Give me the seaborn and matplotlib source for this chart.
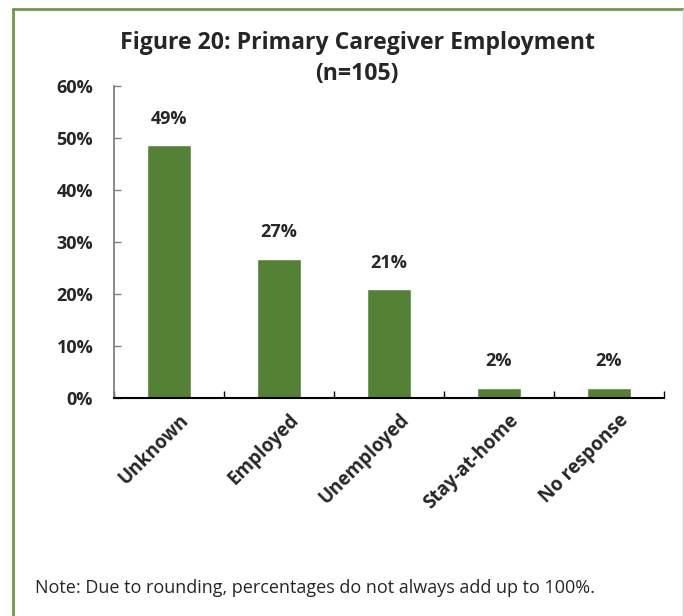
import pandas as pd
import numpy as np
import matplotlib
matplotlib.use('Agg')
import matplotlib.pyplot as plt
import seaborn as sns
from matplotlib.ticker import FixedLocator

# Data
categories = ['Unknown', 'Employed', 'Unemployed', 'Stay-at-home', 'No response']
shares = [48.6, 26.7, 20.9, 1.9, 1.9]
labels = ['49%', '27%', '21%', '2%', '2%']

df = pd.DataFrame({'category': categories, 'share': shares})

sns.set_style('white')
plt.rcParams['font.family'] = ['Open Sans', 'DejaVu Sans']

bar_green = '#548235'
border_green = '#6b9b45'

fig = plt.figure(figsize=(6.84, 6.16), dpi=100)
ax = fig.add_axes([0.1667, 0.3547, 0.8041, 0.5057])

sns.barplot(data=df, x='category', y='share', color=bar_green,
            width=0.4, saturation=1, ax=ax)

# value labels above the bars
for i, (v, lab) in enumerate(zip(shares, labels)):
    ax.annotate(lab, (i, v), xytext=(0, 19), textcoords='offset points',
                ha='center', va='center', fontsize=13, fontweight='bold')

# rotated category labels, placed a bit right of the bar centre like Excel does
for i, cat in enumerate(categories):
    ax.annotate(cat, (i, 0), xytext=(7, -9), textcoords='offset points',
                rotation=45, rotation_mode='anchor', ha='right', va='top',
                fontsize=13.5, fontweight='bold', annotation_clip=False)

ax.set_ylim(0, 60)
ax.set_xlim(-0.5, 4.5)
ax.set_yticks(np.arange(0, 61, 10))
ax.set_yticklabels([f'{t}%' for t in range(0, 61, 10)],
                   fontsize=13, fontweight='bold')
ax.set_xticks(range(len(categories)))
ax.set_xticklabels([''] * len(categories))
ax.xaxis.set_minor_locator(FixedLocator(np.arange(-0.5, 4.6, 1)))
ax.tick_params(axis='x', which='major', length=0)
ax.tick_params(axis='x', which='minor', direction='in', length=5,
               width=1, color='black', bottom=True)
ax.tick_params(axis='y', direction='in', length=5, width=1,
               color='#808080', left=True, pad=15)
ax.set_xlabel('')
ax.set_ylabel('')

for s in ['top', 'right']:
    ax.spines[s].set_visible(False)
ax.spines['left'].set_color('#808080')
ax.spines['left'].set_linewidth(1.3)
ax.spines['bottom'].set_color('black')
ax.spines['bottom'].set_linewidth(1.5)

fig.text(0.522, 0.905, 'Figure 20: Primary Caregiver Employment\n(n=105)',
         ha='center', va='center', fontsize=16.6, fontweight='bold',
         linespacing=1.38)
fig.text(0.051, 0.045, 'Note: Due to rounding, percentages do not always add up to 100%.',
         ha='left', va='center', fontsize=13)

# green frame (top and left edges visible)
fig.add_artist(plt.Line2D([0.019, 1.0], [1 - 9 / 616, 1 - 9 / 616],
                          color=border_green, lw=2, transform=fig.transFigure))
fig.add_artist(plt.Line2D([0.019, 0.019], [0.0, 1 - 9 / 616],
                          color=border_green, lw=2, transform=fig.transFigure))
fig.add_artist(plt.Line2D([0.9985, 0.9985], [0.0, 1 - 9 / 616],
                          color='#d0d0d0', lw=1, transform=fig.transFigure))

fig.savefig('out.png', dpi=100)
